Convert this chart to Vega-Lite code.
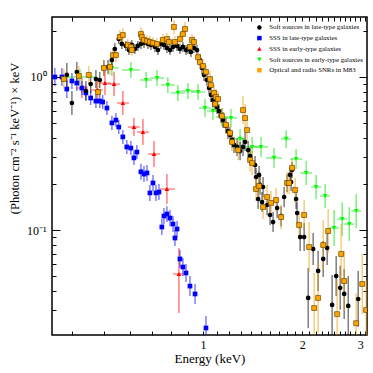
{
"$schema": "https://vega.github.io/schema/vega-lite/v6.json",
"width": 315, "height": 318,
"autosize": {"type": "none"},
"padding": {"left": 52, "top": 17, "right": 6, "bottom": 38},
"background": "white",
"config": {
  "font": "Liberation Serif",
  "view": {"stroke": "black", "strokeWidth": 1.5},
  "axis": {"grid": false, "domain": false, "tickColor": "black", "tickWidth": 1, "labelColor": "black", "titleColor": "black", "titleFontWeight": "normal", "labelFont": "Liberation Serif", "titleFont": "Liberation Serif", "labelOverlap": false, "labelFlush": false}
},
"datasets": {"pts": [
{"s":"g","E":0.423,"F":1.0,"lo":0.887,"hi":1.128,"Elo":0.373,"Ehi":0.477},
{"s":"g","E":0.529,"F":1.145,"lo":1.015,"hi":1.292,"Elo":0.504,"Ehi":0.555},
{"s":"g","E":0.604,"F":1.111,"lo":0.985,"hi":1.253,"Elo":0.567,"Ehi":0.643},
{"s":"g","E":0.672,"F":0.956,"lo":0.847,"hi":1.078,"Elo":0.643,"Ehi":0.700},
{"s":"g","E":0.725,"F":0.985,"lo":0.873,"hi":1.111,"Elo":0.690,"Ehi":0.761},
{"s":"g","E":0.782,"F":0.886,"lo":0.785,"hi":0.999,"Elo":0.745,"Ehi":0.822},
{"s":"g","E":0.839,"F":0.787,"lo":0.698,"hi":0.888,"Elo":0.800,"Ehi":0.882},
{"s":"g","E":0.900,"F":0.810,"lo":0.718,"hi":0.914,"Elo":0.857,"Ehi":0.946},
{"s":"g","E":0.966,"F":0.797,"lo":0.707,"hi":0.899,"Elo":0.919,"Ehi":1.014},
{"s":"g","E":1.014,"F":0.627,"lo":0.548,"hi":0.718,"Elo":0.972,"Ehi":1.057},
{"s":"g","E":1.072,"F":0.599,"lo":0.523,"hi":0.686,"Elo":1.028,"Ehi":1.118},
{"s":"g","E":1.142,"F":0.547,"lo":0.478,"hi":0.626,"Elo":1.095,"Ehi":1.190},
{"s":"g","E":1.216,"F":0.539,"lo":0.471,"hi":0.617,"Elo":1.166,"Ehi":1.269},
{"s":"g","E":1.296,"F":0.394,"lo":0.339,"hi":0.458,"Elo":1.242,"Ehi":1.352},
{"s":"g","E":1.410,"F":0.349,"lo":0.300,"hi":0.406,"Elo":1.332,"Ehi":1.490},
{"s":"g","E":1.500,"F":0.349,"lo":0.300,"hi":0.406,"Elo":1.429,"Ehi":1.576},
{"s":"g","E":1.643,"F":0.296,"lo":0.255,"hi":0.344,"Elo":1.554,"Ehi":1.738},
{"s":"g","E":1.788,"F":0.394,"lo":0.344,"hi":0.451,"Elo":1.726,"Ehi":1.851},
{"s":"g","E":1.917,"F":0.291,"lo":0.250,"hi":0.338,"Elo":1.838,"Ehi":2.000},
{"s":"g","E":2.057,"F":0.236,"lo":0.197,"hi":0.283,"Elo":1.972,"Ehi":2.144},
{"s":"g","E":2.205,"F":0.191,"lo":0.159,"hi":0.229,"Elo":2.130,"Ehi":2.284},
{"s":"g","E":2.349,"F":0.1669,"lo":0.139,"hi":0.200,"Elo":2.268,"Ehi":2.432},
{"s":"g","E":2.501,"F":0.1031,"lo":0.0786,"hi":0.135,"Elo":2.415,"Ehi":2.591},
{"s":"g","E":2.646,"F":0.1179,"lo":0.0913,"hi":0.152,"Elo":2.554,"Ehi":2.740},
{"s":"g","E":2.779,"F":0.1094,"lo":0.0847,"hi":0.141,"Elo":2.683,"Ehi":2.878},
{"s":"g","E":2.918,"F":0.1331,"lo":0.103,"hi":0.172,"Elo":2.818,"Ehi":3.022},
{"s":"r","E":0.429,"F":0.847,"lo":0.729,"hi":0.984,"Elo":0.411,"Ehi":0.447},
{"s":"r","E":0.477,"F":0.822,"lo":0.707,"hi":0.955,"Elo":0.456,"Ehi":0.496},
{"s":"r","E":0.504,"F":0.913,"lo":0.762,"hi":1.094,"Elo":0.483,"Ehi":0.526},
{"s":"r","E":0.537,"F":0.899,"lo":0.750,"hi":1.077,"Elo":0.515,"Ehi":0.559},
{"s":"r","E":0.571,"F":0.676,"lo":0.564,"hi":0.810,"Elo":0.548,"Ehi":0.596},
{"s":"r","E":0.617,"F":0.471,"lo":0.412,"hi":0.539,"Elo":0.591,"Ehi":0.643},
{"s":"r","E":0.657,"F":0.437,"lo":0.359,"hi":0.531,"Elo":0.630,"Ehi":0.686},
{"s":"r","E":0.710,"F":0.314,"lo":0.258,"hi":0.381,"Elo":0.681,"Ehi":0.740},
{"s":"r","E":0.777,"F":0.1853,"lo":0.148,"hi":0.232,"Elo":0.740,"Ehi":0.822},
{"s":"r","E":0.845,"F":0.0516,"lo":0.0287,"hi":0.0763,"Elo":0.811,"Ehi":0.882},
{"s":"b","E":0.355,"F":1.000,"lo":0.873,"hi":1.145},
{"s":"b","E":0.373,"F":1.000,"lo":0.873,"hi":1.145},
{"s":"b","E":0.386,"F":0.834,"lo":0.728,"hi":0.955},
{"s":"b","E":0.400,"F":0.942,"lo":0.835,"hi":1.063},
{"s":"b","E":0.414,"F":0.913,"lo":0.809,"hi":1.030},
{"s":"b","E":0.429,"F":0.847,"lo":0.762,"hi":0.941},
{"s":"b","E":0.441,"F":0.787,"lo":0.708,"hi":0.874},
{"s":"b","E":0.456,"F":0.729,"lo":0.656,"hi":0.810},
{"s":"b","E":0.473,"F":0.696,"lo":0.626,"hi":0.773},
{"s":"b","E":0.486,"F":0.696,"lo":0.626,"hi":0.773},
{"s":"b","E":0.496,"F":0.686,"lo":0.617,"hi":0.762},
{"s":"b","E":0.511,"F":0.627,"lo":0.564,"hi":0.697},
{"s":"b","E":0.529,"F":0.501,"lo":0.451,"hi":0.557},
{"s":"b","E":0.544,"F":0.523,"lo":0.471,"hi":0.581},
{"s":"b","E":0.555,"F":0.471,"lo":0.424,"hi":0.523},
{"s":"b","E":0.571,"F":0.406,"lo":0.365,"hi":0.451},
{"s":"b","E":0.587,"F":0.349,"lo":0.314,"hi":0.388},
{"s":"b","E":0.604,"F":0.343,"lo":0.309,"hi":0.381},
{"s":"b","E":0.617,"F":0.296,"lo":0.266,"hi":0.329},
{"s":"b","E":0.630,"F":0.323,"lo":0.291,"hi":0.359},
{"s":"b","E":0.648,"F":0.240,"lo":0.213,"hi":0.271},
{"s":"b","E":0.662,"F":0.232,"lo":0.206,"hi":0.262},
{"s":"b","E":0.676,"F":0.236,"lo":0.209,"hi":0.266},
{"s":"b","E":0.690,"F":0.1747,"lo":0.155,"hi":0.197},
{"s":"b","E":0.705,"F":0.203,"lo":0.180,"hi":0.229},
{"s":"b","E":0.720,"F":0.1747,"lo":0.155,"hi":0.197},
{"s":"b","E":0.735,"F":0.1771,"lo":0.157,"hi":0.200},
{"s":"b","E":0.750,"F":0.1046,"lo":0.0927,"hi":0.118},
{"s":"b","E":0.761,"F":0.1234,"lo":0.109,"hi":0.139},
{"s":"b","E":0.777,"F":0.1272,"lo":0.113,"hi":0.143},
{"s":"b","E":0.794,"F":0.1198,"lo":0.106,"hi":0.135},
{"s":"b","E":0.811,"F":0.1094,"lo":0.097,"hi":0.123},
{"s":"b","E":0.822,"F":0.0887,"lo":0.0786,"hi":0.100},
{"s":"b","E":0.834,"F":0.1015,"lo":0.090,"hi":0.1145},
{"s":"b","E":0.851,"F":0.0647,"lo":0.0565,"hi":0.0741},
{"s":"b","E":0.869,"F":0.0573,"lo":0.0500,"hi":0.0656},
{"s":"b","E":0.888,"F":0.0524,"lo":0.0458,"hi":0.0600},
{"s":"b","E":0.913,"F":0.0430,"lo":0.0370,"hi":0.0500},
{"s":"b","E":0.946,"F":0.0382,"lo":0.0329,"hi":0.0444},
{"s":"b","E":1.021,"F":0.0229,"lo":0.0191,"hi":0.0274},
{"s":"k","E":0.386,"F":1.031,"lo":0.861,"hi":1.235},
{"s":"k","E":0.400,"F":0.676,"lo":0.564,"hi":0.810},
{"s":"k","E":0.414,"F":1.078,"lo":0.928,"hi":1.253},
{"s":"k","E":0.441,"F":0.810,"lo":0.697,"hi":0.941},
{"s":"k","E":0.456,"F":0.899,"lo":0.785,"hi":1.029},
{"s":"k","E":0.473,"F":0.970,"lo":0.847,"hi":1.111},
{"s":"k","E":0.486,"F":0.956,"lo":0.847,"hi":1.078},
{"s":"k","E":0.500,"F":1.145,"lo":1.015,"hi":1.292},
{"s":"k","E":0.515,"F":1.162,"lo":1.046,"hi":1.291},
{"s":"k","E":0.529,"F":1.29,"lo":1.179,"hi":1.411},
{"s":"k","E":0.540,"F":1.523,"lo":1.392,"hi":1.666},
{"s":"k","E":0.555,"F":1.771,"lo":1.643,"hi":1.909},
{"s":"k","E":0.567,"F":1.644,"lo":1.525,"hi":1.772},
{"s":"k","E":0.583,"F":1.596,"lo":1.481,"hi":1.720},
{"s":"k","E":0.596,"F":1.50,"lo":1.391,"hi":1.617},
{"s":"k","E":0.608,"F":1.62,"lo":1.503,"hi":1.746},
{"s":"k","E":0.621,"F":1.523,"lo":1.413,"hi":1.642},
{"s":"k","E":0.634,"F":1.596,"lo":1.481,"hi":1.720},
{"s":"k","E":0.648,"F":1.644,"lo":1.525,"hi":1.772},
{"s":"k","E":0.662,"F":1.670,"lo":1.549,"hi":1.800},
{"s":"k","E":0.681,"F":1.644,"lo":1.525,"hi":1.772},
{"s":"k","E":0.695,"F":1.62,"lo":1.503,"hi":1.746},
{"s":"k","E":0.715,"F":1.571,"lo":1.457,"hi":1.694},
{"s":"k","E":0.730,"F":1.50,"lo":1.391,"hi":1.617},
{"s":"k","E":0.745,"F":1.644,"lo":1.525,"hi":1.772},
{"s":"k","E":0.761,"F":1.62,"lo":1.503,"hi":1.746},
{"s":"k","E":0.777,"F":1.549,"lo":1.437,"hi":1.670},
{"s":"k","E":0.794,"F":1.50,"lo":1.391,"hi":1.617},
{"s":"k","E":0.811,"F":1.571,"lo":1.457,"hi":1.694},
{"s":"k","E":0.834,"F":1.596,"lo":1.481,"hi":1.720},
{"s":"k","E":0.851,"F":1.523,"lo":1.413,"hi":1.642},
{"s":"k","E":0.869,"F":1.571,"lo":1.457,"hi":1.694},
{"s":"k","E":0.888,"F":1.50,"lo":1.391,"hi":1.617},
{"s":"k","E":0.900,"F":1.523,"lo":1.413,"hi":1.642},
{"s":"k","E":0.919,"F":1.455,"lo":1.350,"hi":1.569},
{"s":"k","E":0.939,"F":1.549,"lo":1.437,"hi":1.670},
{"s":"k","E":0.959,"F":1.50,"lo":1.391,"hi":1.617},
{"s":"k","E":0.979,"F":1.29,"lo":1.179,"hi":1.411},
{"s":"k","E":0.993,"F":1.145,"lo":1.047,"hi":1.253},
{"s":"k","E":1.007,"F":1.031,"lo":0.942,"hi":1.128},
{"s":"k","E":1.028,"F":0.956,"lo":0.874,"hi":1.046},
{"s":"k","E":1.043,"F":0.847,"lo":0.774,"hi":0.927},
{"s":"k","E":1.057,"F":0.763,"lo":0.687,"hi":0.848},
{"s":"k","E":1.072,"F":0.707,"lo":0.636,"hi":0.785},
{"s":"k","E":1.088,"F":0.676,"lo":0.608,"hi":0.751},
{"s":"k","E":1.103,"F":0.636,"lo":0.572,"hi":0.707},
{"s":"k","E":1.118,"F":0.599,"lo":0.539,"hi":0.665},
{"s":"k","E":1.134,"F":0.556,"lo":0.500,"hi":0.617},
{"s":"k","E":1.150,"F":0.523,"lo":0.464,"hi":0.590},
{"s":"k","E":1.174,"F":0.479,"lo":0.425,"hi":0.540},
{"s":"k","E":1.190,"F":0.443,"lo":0.393,"hi":0.500},
{"s":"k","E":1.208,"F":0.418,"lo":0.371,"hi":0.472},
{"s":"k","E":1.225,"F":0.388,"lo":0.344,"hi":0.438},
{"s":"k","E":1.242,"F":0.360,"lo":0.319,"hi":0.406},
{"s":"k","E":1.269,"F":0.349,"lo":0.305,"hi":0.400},
{"s":"k","E":1.296,"F":0.328,"lo":0.286,"hi":0.376},
{"s":"k","E":1.323,"F":0.349,"lo":0.305,"hi":0.400},
{"s":"k","E":1.342,"F":0.376,"lo":0.328,"hi":0.431},
{"s":"k","E":1.371,"F":0.333,"lo":0.291,"hi":0.381},
{"s":"k","E":1.390,"F":0.304,"lo":0.266,"hi":0.348},
{"s":"k","E":1.439,"F":0.266,"lo":0.232,"hi":0.305},
{"s":"k","E":1.449,"F":0.222,"lo":0.194,"hi":0.254},
{"s":"k","E":1.480,"F":0.229,"lo":0.200,"hi":0.262},
{"s":"k","E":1.490,"F":0.197,"lo":0.170,"hi":0.229},
{"s":"k","E":1.522,"F":0.191,"lo":0.164,"hi":0.222},
{"s":"k","E":1.470,"F":0.1594,"lo":0.137,"hi":0.185},
{"s":"k","E":1.511,"F":0.1523,"lo":0.131,"hi":0.177},
{"s":"k","E":1.565,"F":0.1457,"lo":0.125,"hi":0.169},
{"s":"k","E":1.598,"F":0.1253,"lo":0.108,"hi":0.146},
{"s":"k","E":1.632,"F":0.1127,"lo":0.097,"hi":0.131},
{"s":"k","E":1.679,"F":0.1393,"lo":0.120,"hi":0.162},
{"s":"k","E":1.726,"F":0.1234,"lo":0.106,"hi":0.143},
{"s":"k","E":1.763,"F":0.1643,"lo":0.141,"hi":0.191},
{"s":"k","E":1.800,"F":0.203,"lo":0.177,"hi":0.232},
{"s":"k","E":1.838,"F":0.229,"lo":0.203,"hi":0.258},
{"s":"k","E":1.864,"F":0.247,"lo":0.219,"hi":0.279},
{"s":"k","E":1.851,"F":0.2057,"lo":0.180,"hi":0.236},
{"s":"k","E":1.917,"F":0.1594,"lo":0.137,"hi":0.185},
{"s":"k","E":1.931,"F":0.1292,"lo":0.1095,"hi":0.152},
{"s":"k","E":1.972,"F":0.0899,"lo":0.0729,"hi":0.111},
{"s":"k","E":2.028,"F":0.0899,"lo":0.0729,"hi":0.111},
{"s":"k","E":2.086,"F":0.0360,"lo":0.0229,"hi":0.0565},
{"s":"k","E":2.160,"F":0.0751,"lo":0.0590,"hi":0.0955},
{"s":"k","E":2.236,"F":0.0540,"lo":0.0400,"hi":0.0730},
{"s":"k","E":2.317,"F":0.0647,"lo":0.0493,"hi":0.0848},
{"s":"k","E":2.382,"F":0.0763,"lo":0.0591,"hi":0.0985},
{"s":"k","E":2.466,"F":0.0324,"lo":0.0206,"hi":0.0509},
{"s":"k","E":2.537,"F":0.0500,"lo":0.0370,"hi":0.0676},
{"s":"k","E":2.609,"F":0.0419,"lo":0.0301,"hi":0.0583},
{"s":"k","E":2.683,"F":0.0382,"lo":0.0262,"hi":0.0556},
{"s":"k","E":2.760,"F":0.0319,"lo":0.0203,"hi":0.0501},
{"s":"k","E":2.959,"F":0.0354,"lo":0.0233,"hi":0.0540},
{"s":"o","E":0.378,"F":0.970,"lo":0.835,"hi":1.127},
{"s":"o","E":0.420,"F":1.016,"lo":0.874,"hi":1.181},
{"s":"o","E":0.450,"F":1.031,"lo":0.900,"hi":1.180},
{"s":"o","E":0.480,"F":0.797,"lo":0.686,"hi":0.926},
{"s":"o","E":0.500,"F":1.145,"lo":1.015,"hi":1.292},
{"s":"o","E":0.522,"F":1.162,"lo":1.030,"hi":1.311},
{"s":"o","E":0.533,"F":1.39,"lo":1.251,"hi":1.544},
{"s":"o","E":0.544,"F":1.39,"lo":1.251,"hi":1.544},
{"s":"o","E":0.559,"F":1.824,"lo":1.642,"hi":2.026},
{"s":"o","E":0.571,"F":1.88,"lo":1.692,"hi":2.089},
{"s":"o","E":0.591,"F":1.62,"lo":1.481,"hi":1.772},
{"s":"o","E":0.604,"F":1.571,"lo":1.436,"hi":1.719},
{"s":"o","E":0.608,"F":1.50,"lo":1.371,"hi":1.641},
{"s":"o","E":0.648,"F":1.908,"lo":1.717,"hi":2.120},
{"s":"o","E":0.652,"F":1.824,"lo":1.642,"hi":2.026},
{"s":"o","E":0.662,"F":1.745,"lo":1.595,"hi":1.909},
{"s":"o","E":0.676,"F":1.719,"lo":1.571,"hi":1.881},
{"s":"o","E":0.690,"F":1.693,"lo":1.548,"hi":1.852},
{"s":"o","E":0.705,"F":1.670,"lo":1.527,"hi":1.827},
{"s":"o","E":0.725,"F":1.644,"lo":1.503,"hi":1.799},
{"s":"o","E":0.755,"F":1.745,"lo":1.595,"hi":1.909},
{"s":"o","E":0.777,"F":1.771,"lo":1.619,"hi":1.938},
{"s":"o","E":0.788,"F":1.693,"lo":1.548,"hi":1.852},
{"s":"o","E":0.816,"F":2.124,"lo":1.912,"hi":2.360},
{"s":"o","E":0.822,"F":1.693,"lo":1.548,"hi":1.852},
{"s":"o","E":0.851,"F":1.771,"lo":1.619,"hi":1.938},
{"s":"o","E":0.869,"F":1.908,"lo":1.744,"hi":2.087},
{"s":"o","E":0.882,"F":2.060,"lo":1.854,"hi":2.289},
{"s":"o","E":0.913,"F":1.571,"lo":1.436,"hi":1.719},
{"s":"o","E":0.926,"F":1.745,"lo":1.595,"hi":1.909},
{"s":"o","E":0.939,"F":1.693,"lo":1.548,"hi":1.852},
{"s":"o","E":0.966,"F":1.348,"lo":1.213,"hi":1.498},
{"s":"o","E":0.979,"F":1.251,"lo":1.126,"hi":1.390},
{"s":"o","E":1.000,"F":1.180,"lo":1.062,"hi":1.311},
{"s":"o","E":1.021,"F":1.078,"lo":0.970,"hi":1.198},
{"s":"o","E":1.050,"F":0.970,"lo":0.860,"hi":1.094},
{"s":"o","E":1.057,"F":0.886,"lo":0.785,"hi":0.999},
{"s":"o","E":1.080,"F":0.787,"lo":0.698,"hi":0.888},
{"s":"o","E":1.095,"F":0.740,"lo":0.656,"hi":0.835},
{"s":"o","E":1.111,"F":0.718,"lo":0.636,"hi":0.810},
{"s":"o","E":1.088,"F":0.666,"lo":0.590,"hi":0.751},
{"s":"o","E":1.142,"F":0.556,"lo":0.493,"hi":0.627},
{"s":"o","E":1.174,"F":0.486,"lo":0.424,"hi":0.556},
{"s":"o","E":1.208,"F":0.431,"lo":0.376,"hi":0.493},
{"s":"o","E":1.225,"F":0.376,"lo":0.328,"hi":0.431},
{"s":"o","E":1.278,"F":0.333,"lo":0.287,"hi":0.387},
{"s":"o","E":1.323,"F":0.608,"lo":0.493,"hi":0.750},
{"s":"o","E":1.342,"F":0.539,"lo":0.437,"hi":0.665},
{"s":"o","E":1.361,"F":0.450,"lo":0.365,"hi":0.555},
{"s":"o","E":1.390,"F":0.287,"lo":0.240,"hi":0.344},
{"s":"o","E":1.410,"F":0.274,"lo":0.229,"hi":0.328},
{"s":"o","E":1.449,"F":0.1853,"lo":0.155,"hi":0.222},
{"s":"o","E":1.480,"F":0.194,"lo":0.162,"hi":0.232},
{"s":"o","E":1.522,"F":0.1413,"lo":0.118,"hi":0.169},
{"s":"o","E":1.565,"F":0.1643,"lo":0.137,"hi":0.197},
{"s":"o","E":1.609,"F":0.1502,"lo":0.125,"hi":0.180},
{"s":"o","E":1.667,"F":0.157,"lo":0.131,"hi":0.188},
{"s":"o","E":1.726,"F":0.1215,"lo":0.101,"hi":0.146},
{"s":"o","E":1.800,"F":0.203,"lo":0.172,"hi":0.240},
{"s":"o","E":1.825,"F":0.203,"lo":0.172,"hi":0.240},
{"s":"o","E":1.864,"F":0.255,"lo":0.219,"hi":0.296},
{"s":"o","E":1.904,"F":0.1826,"lo":0.152,"hi":0.219},
{"s":"o","E":2.028,"F":0.1253,"lo":0.100,"hi":0.157},
{"s":"o","E":1.958,"F":0.1078,"lo":0.0874,"hi":0.133},
{"s":"o","E":2.100,"F":0.0774,"lo":0.0531,"hi":0.1128},
{"s":"o","E":2.175,"F":0.0309,"lo":0.0183,"hi":0.0523},
{"s":"o","E":2.236,"F":0.0360,"lo":0.0213,"hi":0.0609},
{"s":"o","E":2.317,"F":0.0798,"lo":0.0548,"hi":0.1163},
{"s":"o","E":2.399,"F":0.0985,"lo":0.0707,"hi":0.137},
{"s":"o","E":2.554,"F":0.0282,"lo":0.0167,"hi":0.0477},
{"s":"o","E":2.627,"F":0.0697,"lo":0.0444,"hi":0.1094},
{"s":"o","E":2.683,"F":0.0464,"lo":0.0296,"hi":0.0729},
{"s":"o","E":2.918,"F":0.0246,"lo":0.0157,"hi":0.0386},
{"s":"o","E":3.044,"F":0.0444,"lo":0.0283,"hi":0.0697},
{"s":"o","E":3.130,"F":0.0300,"lo":0.0191,"hi":0.0471}
]},
"data": {"name": "pts"},
"resolve": {"axis": {"x": "independent", "y": "independent"}},
"layer": [
  {
    "mark": {"type": "rule", "clip": true, "strokeWidth": 1.4, "opacity": 0.55},
    "encoding": {
      "x": {"field": "E", "type": "quantitative", "scale": {"type": "log", "domain": [0.348, 3.147], "nice": false},
        "axis": {"orient": "bottom", "values": [0.4,0.5,0.6,0.7,0.8,0.9,1,1.1,1.2,1.3,1.4,1.5,1.6,1.7,1.8,1.9,2,2.1,2.2,2.3,2.4,2.5,2.6,2.7,2.8,2.9,3,3.1],
          "tickSize": -4, "labelExpr": "datum.value == 1 ? '1' : datum.value == 2 ? '2' : datum.value == 3 ? '3' : ''",
          "labelFontSize": 12, "labelPadding": 8, "title": "Energy (keV)", "titleFontSize": 13, "titlePadding": 2}},
      "y": {"field": "lo", "type": "quantitative", "scale": {"type": "log", "domain": [0.0206, 2.466], "nice": false},
        "axis": {"orient": "left", "values": [0.03,0.04,0.05,0.06,0.07,0.08,0.09,0.1,0.2,0.3,0.4,0.5,0.6,0.7,0.8,0.9,1,2],
          "tickSize": -4, "labelExpr": "datum.value == 1 ? '10⁰' : datum.value == 0.1 ? '10⁻¹' : ''",
          "labelFontSize": 12, "labelPadding": 10, "title": "(Photon cm⁻² s⁻¹ keV⁻¹) × keV", "titleFontSize": 12.5,
          "titleX": -38, "titleY": 121, "titleBaseline": "middle", "titleAlign": "center", "titleAngle": -90}},
      "y2": {"field": "hi"},
      "stroke": {"condition": [
        {"test": "datum.s == 'k'", "value": "#000000"},
        {"test": "datum.s == 'b'", "value": "#0000ff"},
        {"test": "datum.s == 'r'", "value": "#ff0000"},
        {"test": "datum.s == 'g'", "value": "#00e000"}], "value": "#f09a00"}
    }
  },
  {
    "transform": [{"filter": "isValid(datum.Elo)"}],
    "mark": {"type": "rule", "clip": true, "strokeWidth": 1.4, "opacity": 0.5},
    "encoding": {
      "x": {"field": "Elo", "type": "quantitative", "axis": null},
      "x2": {"field": "Ehi"},
      "y": {"field": "F", "type": "quantitative",
        "axis": {"orient": "left", "values": [0.1, 1], "tickSize": -8, "labels": false, "title": null}},
      "stroke": {"condition": [
        {"test": "datum.s == 'r'", "value": "#ff0000"}], "value": "#00e000"}
    }
  },
  {
    "transform": [{"filter": "datum.s != 'o'"}],
    "mark": {"type": "point", "filled": true, "clip": true, "opacity": 1, "strokeWidth": 0, "size": 22},
    "encoding": {
      "x": {"field": "E", "type": "quantitative",
        "axis": {"orient": "top", "values": [0.4,0.5,0.6,0.7,0.8,0.9,1,1.1,1.2,1.3,1.4,1.5,1.6,1.7,1.8,1.9,2,2.1,2.2,2.3,2.4,2.5,2.6,2.7,2.8,2.9,3,3.1], "tickSize": -4, "labels": false, "title": null}},
      "y": {"field": "F", "type": "quantitative",
        "axis": {"orient": "right", "values": [0.03,0.04,0.05,0.06,0.07,0.08,0.09,0.1,0.2,0.3,0.4,0.5,0.6,0.7,0.8,0.9,1,2], "tickSize": -4, "labels": false, "title": null}},
      "fill": {"field": "s", "type": "nominal", "scale": {"domain": ["k","b","r","g","o"], "range": ["#000000","#0000ff","#ff0000","#00ff00","#ffa500"]},
        "legend": {"orient": "none", "legendX": 204, "legendY": 7, "title": null, "padding": 0, "labelFontSize": 6.8, "labelFont": "Liberation Serif", "labelColor": "black", "symbolSize": 20, "symbolStrokeWidth": 0, "rowPadding": 2.7, "labelOffset": 6.5,
          "labelExpr": "datum.label == 'k' ? 'Soft sources in late-type galaxies' : datum.label == 'b' ? 'SSS in late-type galaxies' : datum.label == 'r' ? 'SSS in early-type galaxies' : datum.label == 'g' ? 'Soft sources in early-type galaxies' : 'Optical and radio SNRs in M83'"}},
      "shape": {"field": "s", "type": "nominal", "scale": {"domain": ["k","b","r","g","o"], "range": ["circle","square","triangle-up","triangle-down","square"]},
        "legend": {"orient": "none", "legendX": 204, "legendY": 7, "title": null, "padding": 0, "labelFontSize": 6.8, "labelFont": "Liberation Serif", "labelColor": "black", "symbolSize": 20, "symbolStrokeWidth": 0, "rowPadding": 2.7, "labelOffset": 6.5,
          "labelExpr": "datum.label == 'k' ? 'Soft sources in late-type galaxies' : datum.label == 'b' ? 'SSS in late-type galaxies' : datum.label == 'r' ? 'SSS in early-type galaxies' : datum.label == 'g' ? 'Soft sources in early-type galaxies' : 'Optical and radio SNRs in M83'"}}
    }
  },
  {
    "transform": [{"filter": "datum.s == 'o'"}],
    "mark": {"type": "point", "shape": "square", "filled": true, "fill": "#ffa500", "stroke": "#6b4a00", "strokeWidth": 0.7, "size": 24, "clip": true, "opacity": 1},
    "encoding": {
      "x": {"field": "E", "type": "quantitative", "axis": null},
      "y": {"field": "F", "type": "quantitative",
        "axis": {"orient": "right", "values": [0.1, 1], "tickSize": -8, "labels": false, "title": null}}
    }
  }
]
}
